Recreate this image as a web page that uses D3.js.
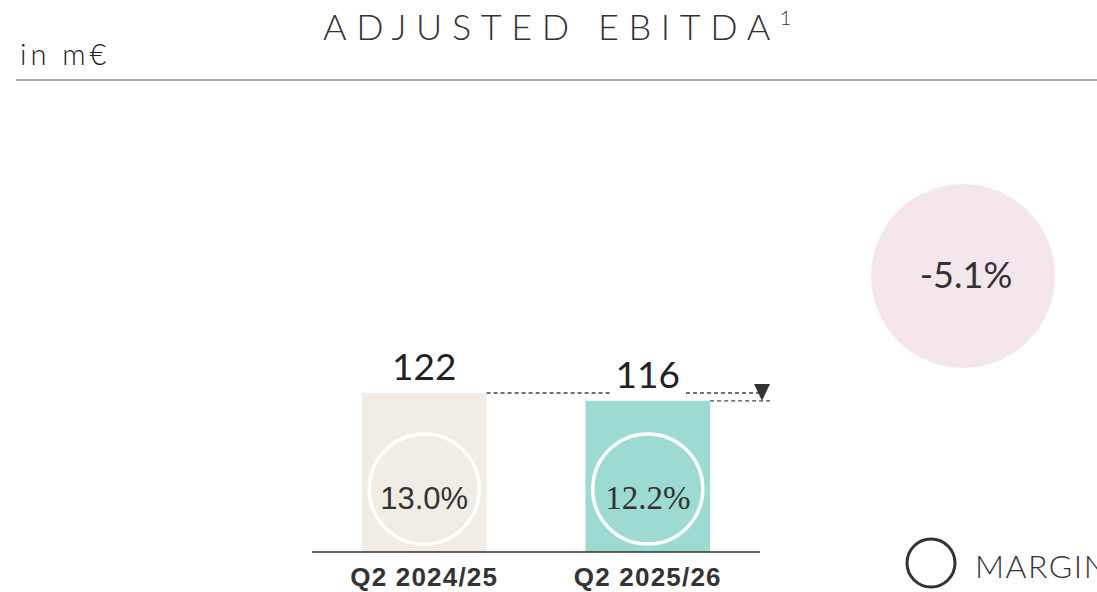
<!DOCTYPE html>
<meta charset="utf-8">
<style>
body { margin: 0; background: #fff; }
svg { font-family: Lato, "Noto Sans", sans-serif; }
.title { font-size: 36px; letter-spacing: 9.6px; fill: #333; font-weight: 300; }
.unit { font-size: 29px; letter-spacing: 4px; fill: #222; font-weight: 300; }
.val { font-size: 37px; fill: #222; }
.cat { font-size: 26px; font-weight: 700; fill: #333; letter-spacing: 1.2px; font-family: "Liberation Sans", Arial, sans-serif; }
.dash { stroke: #444; stroke-width: 1.3; stroke-dasharray: 4,3; }
</style>
<body>
<script src="https://cdn.jsdelivr.net/npm/d3@7"></script>
<script>
// data
var periods = ["Q2 2024/25", "Q2 2025/26"];
var ebitda = [122, 116];
var margins = ["13.0%", "12.2%"];
var change = "-5.1%";
var barColors = ["#f1ede4", "#9ddbd2"];

var W = 1097, H = 592;
var svg = d3.select("body").append("svg")
    .attr("width", W).attr("height", H);

// scales
var x = d3.scaleBand()
    .domain(periods)
    .range([312, 760])
    .paddingInner(0.442)
    .paddingOuter(0.223);
var y = d3.scaleLinear()
    .domain([0, 122])
    .range([552, 393]);

// header
svg.append("text").attr("class", "title")
    .attr("x", 323).attr("y", 40)
    .text("ADJUSTED EBITDA")
  .append("tspan")
    .attr("dy", -15).style("font-size", "20px").style("letter-spacing", "0px")
    .text("1");
svg.append("text").attr("class", "unit")
    .attr("x", 20).attr("y", 65).text("in m€");
svg.append("line")
    .attr("x1", 16).attr("x2", W).attr("y1", 80).attr("y2", 80)
    .attr("stroke", "#555").attr("stroke-width", 1.2);

// bars
svg.selectAll(".bar").data(ebitda).enter().append("rect")
    .attr("class", "bar")
    .attr("x", function(d, i) { return x(periods[i]); })
    .attr("width", x.bandwidth())
    .attr("y", function(d) { return y(d); })
    .attr("height", function(d) { return y(0) - y(d); })
    .attr("fill", function(d, i) { return barColors[i]; });

// baseline
svg.append("line")
    .attr("x1", 312).attr("x2", 760).attr("y1", y(0)).attr("y2", y(0))
    .attr("stroke", "#333").attr("stroke-width", 1.5);

// value labels
svg.selectAll(".val").data(ebitda).enter().append("text")
    .attr("class", "val")
    .attr("text-anchor", "middle")
    .attr("x", function(d, i) { return x(periods[i]) + x.bandwidth() / 2; })
    .attr("y", function(d) { return y(d) - 13; })
    .text(function(d) { return d; });

// margin circles
var cy = 489;
svg.selectAll(".mc").data(margins).enter().append("circle")
    .attr("cx", function(d, i) { return x(periods[i]) + x.bandwidth() / 2; })
    .attr("cy", cy).attr("r", 55)
    .attr("fill", "none").attr("stroke", "#fff").attr("stroke-width", 3.5);
svg.selectAll(".mt").data(margins).enter().append("text")
    .attr("text-anchor", "middle")
    .attr("x", function(d, i) { return x(periods[i]) + x.bandwidth() / 2; })
    .attr("y", 509)
    .style("font-size", function(d, i) { return i == 0 ? "31px" : "33px"; })
    .style("font-family", function(d, i) { return i == 0 ? "'Liberation Sans', Arial, sans-serif" : "'Liberation Serif', 'Times New Roman', serif"; })
    .attr("fill", "#333")
    .text(function(d) { return d; });

// category labels
svg.selectAll(".cat").data(periods).enter().append("text")
    .attr("class", "cat")
    .attr("text-anchor", "middle")
    .attr("x", function(d) { return x(d) + x.bandwidth() / 2; })
    .attr("y", 586)
    .text(function(d) { return d; });

// dashed comparison lines
var x1end = x(periods[0]) + x.bandwidth();
var x2end = x(periods[1]) + x.bandwidth();
var ax = 762;
svg.append("line").attr("class", "dash")
    .attr("x1", x1end).attr("x2", 611).attr("y1", y(ebitda[0])).attr("y2", y(ebitda[0]));
svg.append("line").attr("class", "dash")
    .attr("x1", 686).attr("x2", ax).attr("y1", y(ebitda[0])).attr("y2", y(ebitda[0]));
svg.append("line").attr("class", "dash")
    .attr("x1", x2end).attr("x2", 770).attr("y1", y(ebitda[1])).attr("y2", y(ebitda[1]));
svg.append("path")
    .attr("d", "M" + (ax - 8) + "," + (y(ebitda[0]) - 9) + "L" + (ax + 8) + "," + (y(ebitda[0]) - 9) +
               "L" + ax + "," + y(ebitda[1]) + "Z")
    .attr("fill", "#333");

// change bubble
svg.append("circle").attr("cx", 963).attr("cy", 276).attr("r", 92).attr("fill", "#f5e6ee");
svg.append("text").attr("x", 966).attr("y", 288)
    .attr("text-anchor", "middle").style("font-size", "36px").attr("fill", "#333")
    .text(change);

// legend
svg.append("circle").attr("cx", 931).attr("cy", 563).attr("r", 24)
    .attr("fill", "none").attr("stroke", "#333").attr("stroke-width", 3);
svg.append("text").attr("x", 975).attr("y", 578)
    .style("font-size", "32px").style("letter-spacing", "1.5px").style("font-weight", 300).attr("fill", "#333")
    .text("MARGIN");
</script>
</body>
